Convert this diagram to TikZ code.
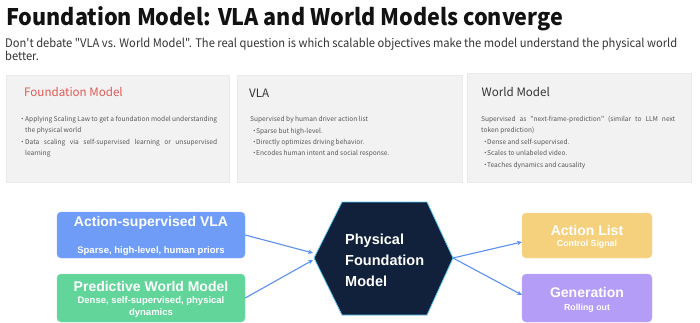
\documentclass[tikz,border=0pt]{standalone}
\usepackage{fontspec}
\usetikzlibrary{arrows.meta,calc}
\newfontfamily\cjk{Noto Sans CJK SC}
\newfontfamily\helv{Liberation Sans}
\definecolor{cardgray}{HTML}{F2F2F2}
\definecolor{cardline}{HTML}{EAEAEA}
\definecolor{redtitle}{HTML}{E05A55}
\definecolor{bodytext}{HTML}{555555}
\definecolor{darktext}{HTML}{333333}
\definecolor{vlablue}{HTML}{6E9CF7}
\definecolor{wmgreen}{HTML}{62D59B}
\definecolor{alyellow}{HTML}{F5D17E}
\definecolor{genpurple}{HTML}{B49DF7}
\definecolor{navy}{HTML}{11203B}
\definecolor{hexline}{HTML}{5BC8F5}
\definecolor{arrowblue}{HTML}{5B8FF0}
\tikzset{
  txt/.style={inner sep=0pt, anchor=base west},
  card/.style={fill=cardgray, draw=cardline, line width=0.6pt},
  body/.style={txt, text=bodytext, font=\cjk\fontsize{6.6}{8}\selectfont},
  cardtitle/.style={txt, font=\cjk\fontsize{11.6}{14}\selectfont},
  colbox/.style={rounded corners=4pt, minimum width=188pt, inner sep=0pt},
  outbox/.style={rounded corners=4pt, minimum width=130pt, minimum height=45pt, inner sep=0pt},
  boxtitle/.style={inner sep=0pt, anchor=base, text=white, font=\helv\bfseries\fontsize{14}{16}\selectfont},
  boxsub/.style={inner sep=0pt, anchor=base, text=white, font=\helv\bfseries\fontsize{9.5}{11}\selectfont},
  conn/.style={arrowblue, line width=1.1pt, -{Stealth[length=5pt,width=4.5pt]}},
}
\begin{document}
\begin{tikzpicture}[x=1pt,y=-1pt]
\useasboundingbox (0,0) rectangle (700,323);
% title
\node[txt, text=black!93, font=\cjk\bfseries\fontsize{22.8}{26}\selectfont] (title) at (6,26) {\resizebox{557pt}{\height}{Foundation Model: VLA and World Models converge}};
\node[txt, text=darktext, font=\cjk\fontsize{11.8}{14}\selectfont] (sub1) at (5,47.3) {\resizebox{672pt}{\height}{Don't debate "VLA vs. World Model". The real question is which scalable objectives make the model understand the physical world}};
\node[txt, text=darktext, font=\cjk\fontsize{11.8}{14}\selectfont] (sub2) at (5,61) {\resizebox{!}{\height}{\scalebox{0.94}[1]{better.}}};
% cards
\draw[card] (6,75) rectangle (229,182);
\draw[card] (237,75) rectangle (462,182);
\draw[card] (467,73) rectangle (691,182);
% card 1
\node[cardtitle, text=redtitle] (c1t) at (24,97) {Foundation Model};
\node[body] (c1b1) at (19,121.5) {•};
\node[body] (c1l1) at (25,121.5) {\makebox[192pt][s]{Applying Scaling Law to get a foundation model understanding}};
\node[body] (c1l2) at (25,132.8) {the physical world};
\node[body] (c1b2) at (19,144.1) {•};
\node[body] (c1l3) at (25,144.1) {\makebox[192pt][s]{Data scaling via self-supervised learning or unsupervised}};
\node[body] (c1l4) at (25,155.4) {learning};
% card 2
\node[cardtitle, text=darktext] (c2t) at (249,97.3) {VLA};
\node[body] (c2l1) at (250,121.6) {Supervised by human driver action list};
\node[body] (c2b1) at (251,133.3) {•};
\node[body] (c2l2) at (256,133.3) {Sparse but high-level.};
\node[body] (c2b2) at (251,144.4) {•};
\node[body] (c2l3) at (256,144.4) {Directly optimizes driving behavior.};
\node[body] (c2b3) at (251,155.6) {•};
\node[body] (c2l4) at (256,155.6) {Encodes human intent and social response.};
% card 3
\node[cardtitle, text=darktext] (c3t) at (481.5,97) {World Model};
\node[body] (c3l1) at (481,121.6) {\makebox[194pt][s]{Supervised as "next-frame-prediction" (similar to LLM next}};
\node[body] (c3l2) at (481,132.9) {token prediction)};
\node[body] (c3b1) at (482,144.2) {•};
\node[body] (c3l3) at (487,144.2) {Dense and self-supervised.};
\node[body] (c3b2) at (482,155.6) {•};
\node[body] (c3l4) at (487,155.6) {Scales to unlabeled video.};
\node[body] (c3b3) at (482,167.2) {•};
\node[body] (c3l5) at (487,167.2) {Teaches dynamics and causality};
% left boxes
\node[colbox, fill=vlablue, draw=vlablue!80!white, minimum height=46pt] (vla) at (151,235) {};
\node[boxtitle] (vlat) at (151,226.7) {Action-supervised VLA};
\node[boxsub] (vlas) at (151,253.3) {Sparse, high-level, human priors};
\node[colbox, fill=wmgreen, draw=wmgreen!80!white, minimum height=48pt] (pwm) at (151,298) {};
\node[boxtitle] (pwmt) at (151,291.7) {Predictive World Model};
\node[boxsub] (pwms1) at (151,303.3) {Dense, self-supervised, physical};
\node[boxsub] (pwms2) at (151,315) {dynamics};
% hexagon
\draw[fill=navy, draw=hexline, line width=0.8pt] (314,258) -- (342,202) -- (427,202) -- (453,258) -- (427,315) -- (342,315) -- cycle;
\coordinate (hexLa) at (313,253);
\coordinate (hexLb) at (313,260);
\coordinate (hexR) at (453,258);
\node[txt, text=white, font=\helv\bfseries\fontsize{14.5}{16}\selectfont] (h1) at (345,244.3) {Physical};
\node[txt, text=white, font=\helv\bfseries\fontsize{14.5}{16}\selectfont] (h2) at (345,265) {Foundation};
\node[txt, text=white, font=\helv\bfseries\fontsize{14.5}{16}\selectfont] (h3) at (345,286) {Model};
% right boxes
\node[outbox, fill=alyellow, draw=alyellow!80!white] (al) at (587,235.5) {};
\node[boxtitle] (alt) at (587,235) {Action List};
\node[boxsub, font=\helv\bfseries\fontsize{8.8}{10}\selectfont] (als) at (587,246.7) {Control Signal};
\node[outbox, fill=genpurple, draw=genpurple!80!white, minimum height=48pt] (gen) at (587,298) {};
\node[boxtitle] (gent) at (587,297.3) {Generation};
\node[boxsub, font=\helv\bfseries\fontsize{8.8}{10}\selectfont] (gens) at (587,310) {Rolling out};
\coordinate (alin) at (522,242);
\coordinate (genin) at (522,295);
% connectors
\draw[conn] (vla.east) -- (hexLa);
\draw[conn] (pwm.east) -- (hexLb);
\draw[conn] (hexR) -- (alin);
\draw[conn] (hexR) -- (genin);
\end{tikzpicture}
\end{document}
